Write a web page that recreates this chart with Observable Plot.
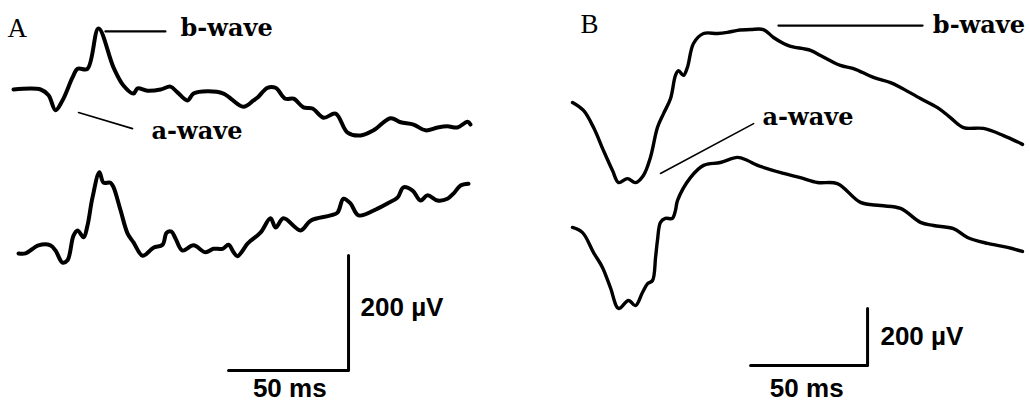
<!DOCTYPE html>
<html><head><meta charset="utf-8">
<script src="https://cdn.jsdelivr.net/npm/d3@7"></script>
<script src="https://cdn.jsdelivr.net/npm/@observablehq/plot@0.6"></script>
<style>
body{margin:0;background:#fff}
#fig{display:flex;width:1030px;height:403px;overflow:hidden}
#fig svg{flex:none}
</style>
</head><body><div id="fig"></div>
<script>
// ERG traces: [time (ms) from trace start, voltage (µV) relative to trace start]
const traceA1 = [[0,0],[11.3,0],[14.6,-10],[17.5,-36],[20.4,-19],[24.6,21],[26.7,36],[30.8,36],[35.4,106],[41.7,38],[45.8,7],[50,-7],[51.7,2],[55.8,-2],[61.3,0],[65.4,5],[68.3,-5],[72.5,-19],[75,-7],[80.8,-3],[87.5,-7],[95.8,-30],[100,-19],[101.7,-14],[105.8,3],[109.2,3],[113.3,-16],[116.7,-16],[120.8,-31],[124.6,-33],[129.2,-49],[134.2,-42],[139.2,-75],[144.6,-80],[150,-71],[157.1,-50],[161.3,-57],[166.7,-61],[171.7,-71],[176.7,-66],[180.8,-64],[185,-66],[189.2,-56],[190.4,-61]];
const traceA2 = [[2.1,-5],[5,-5],[10.4,9],[15.4,9],[17.5,0],[20.4,-21],[22.5,-17],[25,26],[26.7,35],[29.2,23],[30.8,43],[32.9,92],[35.8,136],[37.5,118],[40.4,118],[41.7,110],[44.6,70],[47.5,30],[50,14],[53.8,-9],[58.3,5],[62.1,10],[63.8,31],[65.8,33],[67.5,21],[70.4,0],[75,9],[80,-3],[83.3,3],[87.1,3],[89.6,10],[91.7,-3],[93.3,-10],[97.5,12],[98.8,17],[102.9,31],[107.1,56],[109.2,40],[112.5,56],[119.6,35],[123.8,52],[132.1,61],[135,66],[137.5,90],[140.4,82],[143.8,61],[151.7,73],[155.8,82],[160,92],[162.5,110],[166.3,104],[169.6,87],[172.5,96],[176.7,87],[180.8,90],[183.3,99],[186.3,113],[189.6,116]];
const traceB1 = [[0,0],[4.7,-28],[9,-88],[13.2,-168],[17.1,-239],[19.7,-281],[23.5,-267],[26.9,-281],[30.3,-256],[33.3,-193],[36.3,-88],[38.9,-39],[41.9,14],[44,95],[45.3,112],[47.4,95],[49.1,123],[51.7,207],[56,242],[62,242],[66.2,246],[70.5,253],[76.1,256],[81.6,256],[85.9,228],[90.2,207],[93.2,197],[101.7,183],[106,165],[114.5,130],[120.1,119],[128.6,88],[135.9,70],[140.2,53],[148.7,14],[156,-18],[161.5,-53],[167.1,-88],[175.6,-91],[184.2,-116],[192.3,-147]];
const traceB2 = [[0,0],[4.3,-18],[9,-88],[12.8,-140],[16.2,-211],[19.7,-284],[23.9,-256],[26.9,-274],[29.9,-228],[32.1,-197],[34.2,-186],[35.5,-105],[36.3,-46],[37.6,18],[39.7,32],[42.7,32],[44,60],[44.9,95],[50.4,175],[56,218],[63.2,228],[70.5,246],[74.8,235],[79.1,218],[90.2,190],[97.4,175],[104.7,158],[113.2,154],[123.1,88],[131.6,77],[140.2,67],[148.7,18],[154.3,7],[162.8,-4],[168.8,-35],[177.4,-56],[185.9,-70],[192.3,-84]];

const scaleTimeMs = 50;
const scaleVoltUV = 200;
const timeLabel = "50 ms";
const voltLabel = "200 µV";
const panelLabels = ["A", "B"];
const bLabel = "b-wave";
const aLabel = "a-wave";

const labelFont = {fontFamily: "DejaVu Serif", fontWeight: "bold", fontSize: 24, fill: "black"};
const scaleFont = {fontFamily: "Liberation Sans", fontWeight: "bold", fontSize: 26, fill: "black"};

function panel(cfg) {
  const sx = cfg.barT, sy = cfg.barV;
  const bar = [[sx - scaleTimeMs, sy], [sx, sy], [sx, sy + scaleVoltUV]];
  return Plot.plot({
    width: 515, height: 403, margin: 0,
    style: {background: "white", overflow: "visible"},
    x: {domain: cfg.xDomain, axis: null},
    y: {domain: cfg.yDomain, axis: null},
    marks: [
      Plot.line(cfg.t1, {x: d => d[0], y: d => d[1], stroke: "black", strokeWidth: cfg.sw, curve: "catmull-rom", strokeLinejoin: "round", strokeLinecap: "round"}),
      Plot.line(cfg.t2, {x: d => d[0], y: d => d[1] + cfg.off2, stroke: "black", strokeWidth: cfg.sw, curve: "catmull-rom", strokeLinejoin: "round", strokeLinecap: "round"}),
      Plot.line(bar, {x: d => d[0], y: d => d[1], stroke: "black", strokeWidth: 3}),
      Plot.line(cfg.bLine, {x: d => d[0], y: d => d[1], stroke: "black", strokeWidth: 2.2}),
      Plot.line(cfg.aLine, {x: d => d[0], y: d => d[1], stroke: "black", strokeWidth: 1.6}),
      Plot.text([{t: cfg.panelPos[0], v: cfg.panelPos[1], s: cfg.name}], {x: "t", y: "v", text: "s", textAnchor: "start", fontFamily: "Liberation Serif", fontSize: 27, fill: "black"}),
      Plot.text([{t: cfg.bPos[0], v: cfg.bPos[1], s: bLabel}], {x: "t", y: "v", text: "s", textAnchor: "start", ...labelFont}),
      Plot.text([{t: cfg.aPos[0], v: cfg.aPos[1], s: aLabel}], {x: "t", y: "v", text: "s", textAnchor: "start", ...labelFont}),
      Plot.text([{t: sx + cfg.voltDx, v: cfg.voltV, s: voltLabel}], {x: "t", y: "v", text: "s", textAnchor: "start", ...scaleFont}),
      Plot.text([{t: sx - scaleTimeMs / 2 + cfg.timeDx, v: cfg.timeV, s: timeLabel}], {x: "t", y: "v", text: "s", textAnchor: "middle", ...scaleFont})
    ]
  });
}

const fig = document.getElementById("fig");
fig.append(panel({
  name: panelLabels[0], t1: traceA1, t2: traceA2, off2: -280, sw: 4,
  xDomain: [-5.42, 209.17], yDomain: [-546, 154.8],
  barT: 139.6, barV: -488.7,
  bLine: [[38.3, 101], [63.3, 101]], aLine: [[27.1, -40], [49.6, -68]],
  panelPos: [-2.5, 106], bPos: [69.6, 106], aPos: [57.5, -73],
  voltDx: 5, voltV: -380, timeDx: 0.5, timeV: -520
}));
fig.append(panel({
  name: panelLabels[1], t1: traceB1, t2: traceB2, off2: -438.6, sw: 3.4,
  xDomain: [-24.36, 195.73], yDomain: [-1056.2, 357.9],
  barT: 126.1, barV: -923,
  bLine: [[88, 270], [149.6, 270]], aLine: [[37.6, -249], [77.4, -74]],
  panelPos: [3.4, 274], bPos: [154, 270], aPos: [81.2, -53],
  voltDx: 5.5, voltV: -821, timeDx: -1, timeV: -1003
}));
</script>
</body></html>
